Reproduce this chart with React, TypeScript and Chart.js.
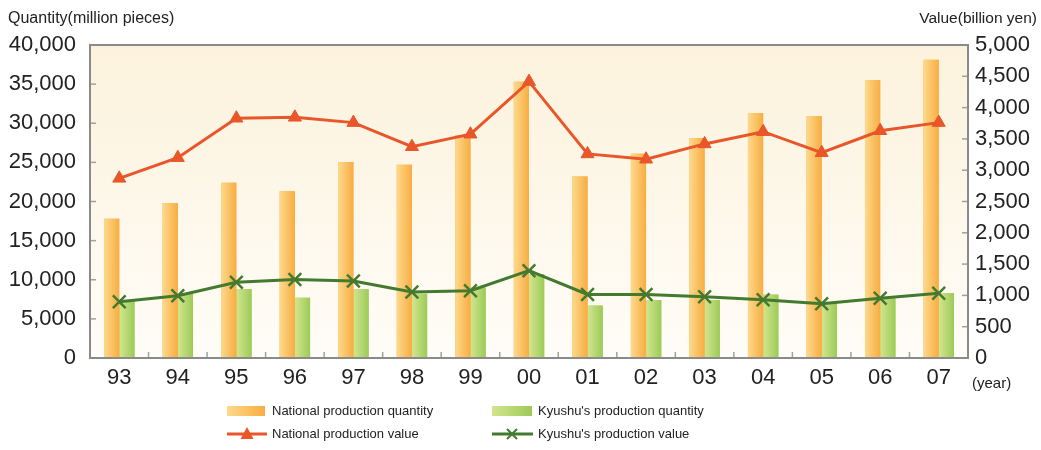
import React, { useEffect, useRef } from "react";
import { Chart, registerables } from "chart.js";

Chart.register(...registerables);

const years = ["93", "94", "95", "96", "97", "98", "99", "00", "01", "02", "03", "04", "05", "06", "07"];
const nationalQty = [17800, 19800, 22400, 21300, 25050, 24700, 28500, 35300, 23200, 26100, 28100, 31300, 30900, 35500, 38100];
const kyushuQty = [7300, 8200, 8800, 7700, 8800, 8200, 9000, 10700, 6700, 7400, 7400, 8100, 7000, 7600, 8300];
const nationalValue = [2870, 3200, 3830, 3845, 3760, 3375, 3575, 4415, 3260, 3175, 3420, 3615, 3280, 3630, 3760];
const kyushuValue = [900, 995, 1210, 1255, 1230, 1055, 1075, 1395, 1015, 1015, 980, 930, 865, 955, 1035];

const leftTitle = "Quantity(million pieces)";
const rightTitle = "Value(billion yen)";
const xUnit = "(year)";
const seriesNames = [
  "National production quantity",
  "Kyushu's production quantity",
  "National production value",
  "Kyushu's production value",
];

const FONT = "'Liberation Sans', Arial, Helvetica, sans-serif";
const ORANGE_LINE = "#e8562a";
const GREEN_LINE = "#437a2f";
const ORANGE_A = "#fdd98c";
const ORANGE_B = "#f8ad42";
const GREEN_A = "#d3e58f";
const GREEN_B = "#9ccb58";

const fmt = (v: number) => v.toLocaleString("en-US");

function hGrad(ctx: CanvasRenderingContext2D, x0: number, x1: number, a: string, b: string) {
  const g = ctx.createLinearGradient(x0, 0, x1, 0);
  g.addColorStop(0, a);
  g.addColorStop(1, b);
  return g;
}

const decor = {
  id: "decor",
  beforeDatasetsDraw(chart: any) {
    const { ctx, chartArea: a } = chart;
    ctx.save();
    const g = ctx.createLinearGradient(0, a.top, 0, a.bottom);
    g.addColorStop(0, "#fcf2dc");
    g.addColorStop(1, "#fffdf8");
    ctx.fillStyle = g;
    ctx.fillRect(a.left, a.top, a.right - a.left, a.bottom - a.top);
    ctx.restore();
  },
  afterDatasetDraw(chart: any, args: any) {
    const ds = chart.data.datasets[args.index];
    if (ds.type !== "bar") return;
    const { ctx } = chart;
    const meta = chart.getDatasetMeta(args.index);
    const isOrange = args.index === 0;
    ctx.save();
    meta.data.forEach((el: any) => {
      const l = el.x - el.width / 2;
      const r = el.x + el.width / 2;
      ctx.fillStyle = hGrad(ctx, l, r, isOrange ? ORANGE_A : GREEN_A, isOrange ? ORANGE_B : GREEN_B);
      ctx.fillRect(l, el.y, r - l, el.base - el.y);
    });
    ctx.restore();
  },
  afterDraw(chart: any) {
    const { ctx, chartArea: a, scales } = chart;
    ctx.save();
    // inward tick marks
    ctx.strokeStyle = "#a0a0a0";
    ctx.lineWidth = 1.5;
    const yS = scales.y;
    yS.ticks.forEach((t: any) => {
      const yy = yS.getPixelForValue(t.value);
      ctx.beginPath();
      ctx.moveTo(a.left, yy);
      ctx.lineTo(a.left + 6, yy);
      ctx.stroke();
    });
    const y1S = scales.y1;
    y1S.ticks.forEach((t: any) => {
      const yy = y1S.getPixelForValue(t.value);
      ctx.beginPath();
      ctx.moveTo(a.right, yy);
      ctx.lineTo(a.right - 6, yy);
      ctx.stroke();
    });
    const n = years.length;
    const cw = (a.right - a.left) / n;
    for (let k = 1; k < n; k++) {
      const xx = a.left + cw * k;
      ctx.beginPath();
      ctx.moveTo(xx, a.bottom);
      ctx.lineTo(xx, a.bottom - 6);
      ctx.stroke();
    }
    // frame
    ctx.strokeStyle = "#8a8a8a";
    ctx.lineWidth = 2;
    ctx.strokeRect(a.left, a.top, a.right - a.left, a.bottom - a.top);

    // titles
    ctx.fillStyle = "#222";
    ctx.font = `16px ${FONT}`;
    ctx.textBaseline = "middle";
    ctx.textAlign = "left";
    ctx.fillText(leftTitle, 8, 19);
    ctx.font = `15.5px ${FONT}`;
    ctx.textAlign = "right";
    ctx.fillText(rightTitle, 1037, 19);
    ctx.font = `15px ${FONT}`;
    ctx.textAlign = "left";
    ctx.fillText(xUnit, 972, 384);

    // legend
    const r1 = 411;
    const r2 = 434;
    const c1 = 227;
    const c2 = 492;
    ctx.fillStyle = hGrad(ctx, c1, c1 + 38, ORANGE_A, ORANGE_B);
    ctx.fillRect(c1, r1 - 5, 38, 10);
    ctx.fillStyle = hGrad(ctx, c2, c2 + 40, GREEN_A, GREEN_B);
    ctx.fillRect(c2, r1 - 5, 40, 10);

    ctx.lineWidth = 3;
    ctx.strokeStyle = ORANGE_LINE;
    ctx.beginPath();
    ctx.moveTo(c1, r2);
    ctx.lineTo(c1 + 40, r2);
    ctx.stroke();
    ctx.fillStyle = ORANGE_LINE;
    ctx.beginPath();
    ctx.moveTo(c1 + 20, r2 - 7);
    ctx.lineTo(c1 + 26.5, r2 + 5);
    ctx.lineTo(c1 + 13.5, r2 + 5);
    ctx.closePath();
    ctx.fill();

    ctx.strokeStyle = GREEN_LINE;
    ctx.beginPath();
    ctx.moveTo(c2, r2);
    ctx.lineTo(c2 + 41, r2);
    ctx.stroke();
    ctx.lineWidth = 2;
    ctx.beginPath();
    ctx.moveTo(c2 + 15, r2 - 5);
    ctx.lineTo(c2 + 25, r2 + 5);
    ctx.moveTo(c2 + 25, r2 - 5);
    ctx.lineTo(c2 + 15, r2 + 5);
    ctx.stroke();

    ctx.fillStyle = "#222";
    ctx.font = `13px ${FONT}`;
    ctx.textAlign = "left";
    ctx.textBaseline = "middle";
    ctx.fillText(seriesNames[0], 272, r1);
    ctx.fillText(seriesNames[1], 538, r1);
    ctx.fillText(seriesNames[2], 272, r2);
    ctx.fillText(seriesNames[3], 538, r2);
    ctx.restore();
  },
};

export default function App() {
  const ref = useRef<HTMLCanvasElement | null>(null);
  useEffect(() => {
    document.body.style.margin = "0";
    const canvas = ref.current;
    if (!canvas) return;
    const chart = new Chart(canvas, {
      type: "bar",
      data: {
        labels: years,
        datasets: [
          {
            type: "bar",
            label: seriesNames[0],
            data: nationalQty,
            backgroundColor: ORANGE_B,
            yAxisID: "y",
            order: 2,
            categoryPercentage: 0.52,
            barPercentage: 1,
          },
          {
            type: "bar",
            label: seriesNames[1],
            data: kyushuQty,
            backgroundColor: GREEN_B,
            yAxisID: "y",
            order: 2,
            categoryPercentage: 0.52,
            barPercentage: 1,
          },
          {
            type: "line",
            label: seriesNames[2],
            data: nationalValue,
            yAxisID: "y1",
            borderColor: ORANGE_LINE,
            backgroundColor: ORANGE_LINE,
            borderWidth: 3,
            pointStyle: "triangle",
            pointRadius: 7.5,
            pointBorderWidth: 1,
            tension: 0,
            order: 0,
          },
          {
            type: "line",
            label: seriesNames[3],
            data: kyushuValue,
            yAxisID: "y1",
            borderColor: GREEN_LINE,
            backgroundColor: GREEN_LINE,
            borderWidth: 3,
            pointStyle: "crossRot",
            pointRadius: 9,
            pointBorderWidth: 2.5,
            tension: 0,
            order: 1,
          },
        ] as any,
      },
      options: {
        responsive: false,
        animation: false,
        layout: { padding: { top: 45, left: 0, right: 0, bottom: 0 } },
        plugins: { legend: { display: false }, tooltip: { enabled: false } },
        scales: {
          x: {
            offset: true,
            grid: { display: false, drawTicks: false },
            border: { display: false },
            ticks: { color: "#222", font: { family: FONT, size: 22 }, padding: 7, maxRotation: 0, autoSkip: false },
            afterFit: (s: any) => {
              s.height = 92;
            },
          },
          y: {
            position: "left",
            min: 0,
            max: 40000,
            grid: { display: false, drawTicks: false },
            border: { display: false },
            ticks: {
              stepSize: 5000,
              color: "#222",
              font: { family: FONT, size: 22 },
              padding: 14,
              callback: (v: any) => fmt(Number(v)),
            },
            afterFit: (s: any) => {
              s.width = 90;
            },
          },
          y1: {
            position: "right",
            min: 0,
            max: 5000,
            grid: { display: false, drawTicks: false },
            border: { display: false },
            ticks: {
              stepSize: 500,
              color: "#222",
              font: { family: FONT, size: 22 },
              padding: 7,
              callback: (v: any) => fmt(Number(v)),
            },
            afterFit: (s: any) => {
              s.width = 73;
            },
          },
        },
      },
      plugins: [decor],
    });
    return () => chart.destroy();
  }, []);
  return (
    <div style={{ width: 1041, height: 450, background: "#fff" }}>
      <canvas ref={ref} width={1041} height={450} style={{ display: "block" }} />
    </div>
  );
}
